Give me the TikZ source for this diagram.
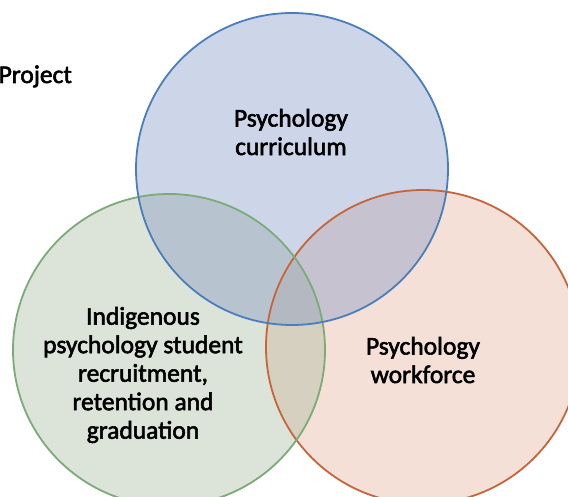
\documentclass[tikz,border=0pt]{standalone}
\usepackage{fontspec}
\setmainfont{Carlito}[RawFeature={embolden=2.2}]
\definecolor{bluefill}{RGB}{130,150,198}
\definecolor{greenfill}{RGB}{167,185,157}
\definecolor{orangefill}{RGB}{227,177,152}
\definecolor{bluestroke}{RGB}{74,126,187}
\definecolor{greenstroke}{RGB}{122,171,120}
\definecolor{orangestroke}{RGB}{200,100,58}
\tikzset{
  setfill/.style={fill opacity=0.4},
  setline/.style={line width=1.8pt},
  label/.style={align=center, inner sep=0pt, text=black, font=\fontsize{25.5}{28.5}\selectfont}
}
\begin{document}
\begin{tikzpicture}[x=1pt,y=-1pt]
\useasboundingbox (0,0) rectangle (568,497);
\clip (0,0) rectangle (568,497);
\fill[orangefill, setfill] (423,347) circle (157);
\fill[greenfill, setfill] (169,350) circle (156);
\fill[bluefill, setfill] (292,169) circle (156);
\draw[orangestroke, setline] (423,347) circle (157);
\draw[greenstroke, setline] (169,350) circle (156);
\draw[bluestroke, setline] (292,169) circle (156);
\node[label, anchor=base west] (project) at (-1.5,83) {Project};
\node[label] (curr) at (291,132) {Psychology\\curriculum};
\node[label] (indig) at (143,375) {Indigenous\\psychology student\\recruitment,\\retention and\\graduation};
\node[label] (work) at (423,360) {Psychology\\workforce};
\end{tikzpicture}
\end{document}
